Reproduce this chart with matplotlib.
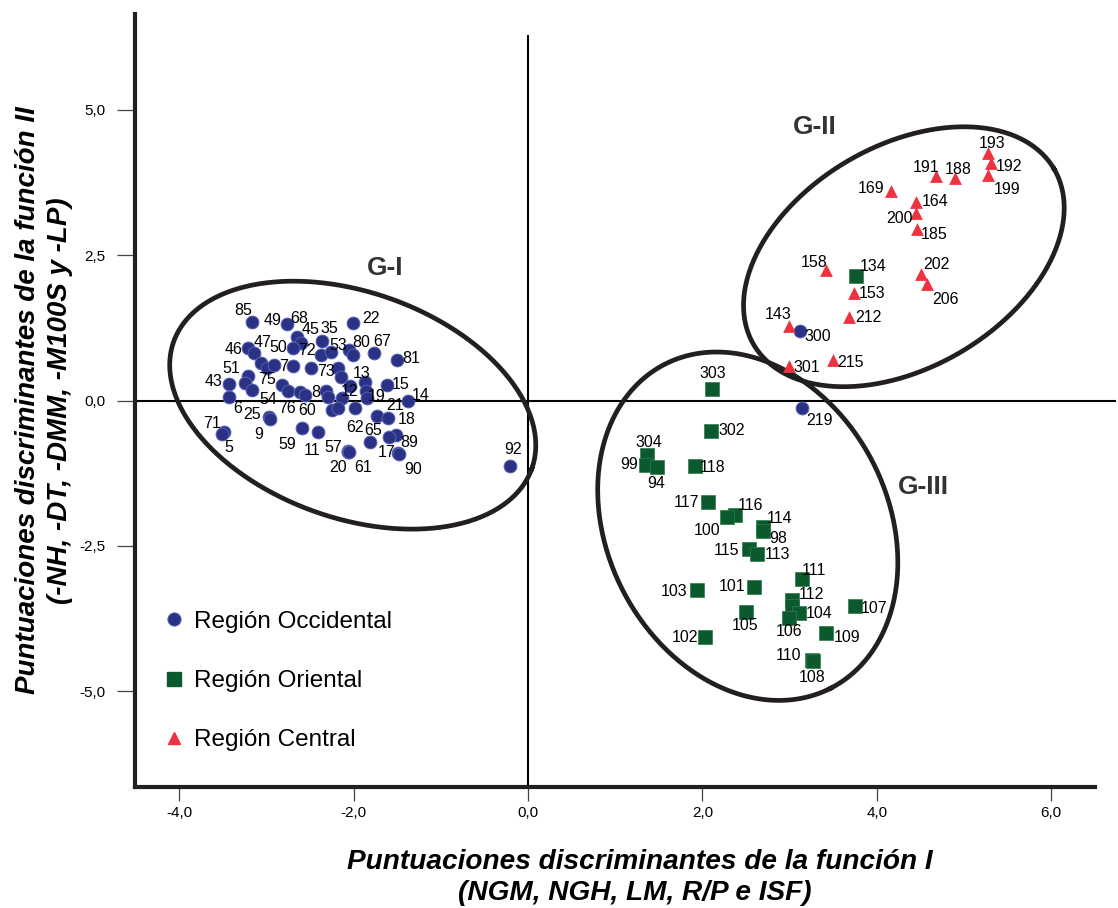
import numpy as np
import matplotlib
matplotlib.use('Agg')
import matplotlib.pyplot as plt
from matplotlib.lines import Line2D

plt.rcParams['font.family'] = ['Liberation Sans', 'DejaVu Sans']

# ---------------- data ----------------
occ_labels = ['85', '49', '68', '45', '35', '22',
              '46', '47', '50', '72', '53', '80', '', '67', '81',
              '', '', '', '7', '',
              '51', '', '75', '43', '6',
              '', '54', '60', '76', '8', '',
              '73', '', '13', '', '', '12',
              '15', '19', '14', '21', '18',
              '62', '', '', '65', '89', '',
              '17', '90', '25', '9', '71', '5',
              '59', '11', '57', '20', '61', '92',
              '300', '219']
occ_x = [-3.17, -2.76, -2.65, -2.60, -2.36, -2.01,
         -3.21, -3.14, -2.69, -2.37, -2.26, -2.05, -2.01, -1.77, -1.50,
         -2.49, -3.06, -2.99, -2.69, -2.91,
         -3.21, -3.25, -3.17, -3.43, -3.43,
         -2.82, -2.75, -2.61, -2.56, -2.32, -2.29,
         -2.18, -2.14, -1.87, -1.86, -2.04, -2.13,
         -1.62, -1.85, -1.38, -1.73, -1.61,
         -1.98, -2.25, -2.18, -1.81, -1.51, -1.59,
         -1.49, -1.48, -2.97, -2.96, -3.49, -3.51,
         -2.59, -2.41, -2.06, -2.07, -2.05, -0.21,
         3.12, 3.14]
occ_y = [1.35, 1.31, 1.09, 0.99, 1.02, 1.33,
         0.90, 0.82, 0.90, 0.78, 0.83, 0.87, 0.78, 0.82, 0.70,
         0.56, 0.64, 0.56, 0.59, 0.61,
         0.42, 0.30, 0.18, 0.28, 0.06,
         0.27, 0.16, 0.15, 0.09, 0.16, 0.06,
         0.56, 0.40, 0.32, 0.16, 0.25, 0.04,
         0.27, 0.04, -0.01, -0.27, -0.30,
         -0.13, -0.16, -0.13, -0.71, -0.59, -0.63,
         -0.90, -0.92, -0.28, -0.32, -0.54, -0.58,
         -0.47, -0.54, -0.87, -0.88, -0.89, -1.13,
         1.19, -0.13]

ori_labels = ['303', '302', '304', '99', '94', '118', '117', '116', '100',
              '114', '98', '115', '113', '111', '103', '101', '112', '',
              '104', '106', '105', '107', '109', '102', '110', '108', '134']
ori_x = [2.11, 2.10, 1.36, 1.35, 1.48, 1.91, 2.06, 2.37, 2.28,
         2.70, 2.69, 2.53, 2.63, 3.14, 1.94, 2.59, 3.03, 3.03,
         3.11, 2.99, 2.50, 3.75, 3.42, 2.03, 3.26, 3.27, 3.76]
ori_y = [0.19, -0.52, -0.94, -1.10, -1.14, -1.13, -1.74, -1.97, -2.01,
         -2.17, -2.25, -2.56, -2.63, -3.07, -3.26, -3.20, -3.42, -3.53,
         -3.65, -3.73, -3.63, -3.53, -4.00, -4.07, -4.46, -4.48, 2.14]

cen_labels = ['193', '192', '199', '191', '188', '169', '164', '200', '185',
              '158', '153', '202', '206', '143', '212', '215', '301']
cen_x = [5.27, 5.31, 5.27, 4.68, 4.90, 4.16, 4.45, 4.45, 4.46,
         3.42, 3.74, 4.51, 4.58, 2.99, 3.68, 3.50, 2.99]
cen_y = [4.25, 4.08, 3.87, 3.85, 3.82, 3.60, 3.41, 3.22, 2.94,
         2.24, 1.85, 2.17, 2.00, 1.28, 1.43, 0.70, 0.60]

series_names = ['Región Occidental', 'Región Oriental', 'Región Central']

x_ticks = [-4, -2, 0, 2, 4, 6]
x_ticklabels = ['-4,0', '-2,0', '0,0', '2,0', '4,0', '6,0']
y_ticks = [-5, -2.5, 0, 2.5, 5]
y_ticklabels = ['-5,0', '-2,5', '0,0', '2,5', '5,0']

group_names = ['G-I', 'G-II', 'G-III']

# ---------------- layout / style (not data) ----------------
label_offsets = {  # label centre relative to marker, in pixels (x right, y down)
    '85': (-8, -11), '49': (-15, -4), '68': (2, -19), '45': (9, -13), '35': (7, -13),
    '22': (18, -5), '46': (-15, 1), '47': (8, -10), '50': (-15, -1), '72': (-14, -5),
    '53': (7, -7), '80': (12, -7), '67': (8, -11), '81': (14, -1), '51': (-17, -8),
    '7': (-10, 0), '73': (-12, 4), '13': (-3, -8), '43': (-15, -3), '75': (15, -11),
    '15': (14, 0), '8': (-10, 1), '12': (7, -7), '19': (10, -2), '14': (13, -6),
    '21': (18, -11), '54': (-20, 8), '6': (9, 11), '76': (-18, 13), '60': (7, 19),
    '25': (-17, -2), '18': (19, 2), '62': (0, 19), '65': (3, -11), '89': (13, 8),
    '71': (-12, -8), '9': (-11, 15), '59': (-15, 17), '11': (-6, 19), '57': (-15, -4),
    '17': (-11, 0), '5': (7, 13), '20': (-9, 16), '61': (14, 15), '90': (14, 15),
    '92': (3, -17), '300': (18, 5), '219': (18, 12),
    '303': (1, -16), '302': (21, 0), '304': (2, -13), '99': (-17, 0), '94': (-1, 17),
    '118': (18, 1), '117': (-21, 1), '116': (16, -10), '100': (-20, 13), '114': (16, -8),
    '98': (16, 7), '115': (-22, 1), '113': (20, 1), '111': (12, -9), '103': (-23, 1),
    '101': (-22, 0), '112': (19, -5), '104': (20, 1), '106': (0, 14), '105': (-1, 14),
    '107': (19, 3), '109': (21, 4), '102': (-20, 0), '110': (-24, -5), '108': (-1, 16),
    '134': (17, -9),
    '193': (4, -10), '192': (18, 3), '199': (19, 14), '191': (-10, -9), '188': (3, -9),
    '169': (-20, -2), '164': (19, -1), '200': (-17, 5), '185': (17, 5), '158': (-12, -8),
    '153': (18, 1), '202': (15, -10), '206': (18, 15), '143': (-11, -12), '212': (20, 0),
    '215': (17, 3), '301': (18, 2),
}
group_text_pos = [(-1.64, 2.28), (3.29, 4.70), (4.53, -1.49)]
# ellipses: centre (data), semi-axes (px), tilt (deg, downward to the right)
ellipses = [((-2.01, -0.08), 190, 113, 19.5),
            ((4.31, 2.47), 174, 111, -30.3),
            ((2.52, -2.16), 182, 140.5, 62.9)]

W, H, DPI = 1118, 908, 100
fig = plt.figure(figsize=(W / DPI, H / DPI), dpi=DPI)
L, R, B, T = 135 / W, 1095 / W, 1 - 787 / H, 1 - 14 / H
ax = fig.add_axes([L, B, R - L, T - B])
XL = (-4.507, 6.502)
YL = (-6.641, 6.641)
ax.set_xlim(*XL)
ax.set_ylim(*YL)
sx = (R - L) * W / (XL[1] - XL[0])
sy = (T - B) * H / (YL[1] - YL[0])

dark = '#231f20'
for s in ['top', 'right']:
    ax.spines[s].set_visible(False)
for s in ['left', 'bottom']:
    ax.spines[s].set_linewidth(3.0)
    ax.spines[s].set_color(dark)

ax.set_xticks(x_ticks)
ax.set_xticklabels(x_ticklabels)
ax.set_yticks(y_ticks)
ax.set_yticklabels(y_ticklabels)
ax.tick_params(axis='x', direction='out', length=10, width=0.9, color='#444444',
               labelsize=11, pad=4)
ax.tick_params(axis='y', direction='out', length=13, width=0.9, color='#444444',
               labelsize=11, pad=8)

# zero lines
ax.plot([XL[0], 6.73], [0, 0], color='black', lw=1.5, clip_on=False, zorder=1)
ax.plot([0, 0], [YL[0], 6.26], color='black', lw=1.5, clip_on=False, zorder=1)

# ellipses
t = np.linspace(0, 2 * np.pi, 400)
for (cx, cy), a, b, phi in ellipses:
    p = np.deg2rad(phi)
    dx = a * np.cos(t) * np.cos(p) - b * np.sin(t) * np.sin(p)
    dy = a * np.cos(t) * np.sin(p) + b * np.sin(t) * np.cos(p)
    ax.plot(cx + dx / sx, cy - dy / sy, color=dark, lw=3.4, zorder=2)

c_occ, c_ori, c_cen = '#2b3285', '#0b5a2e', '#ee3340'
ax.scatter(occ_x, occ_y, s=85, marker='o', color=c_occ, edgecolor='#5563b5',
           linewidth=0.7, zorder=3)
ax.scatter(ori_x, ori_y, s=95, marker='s', color=c_ori, edgecolor='#2f7a4c',
           linewidth=0.5, zorder=3)
ax.scatter(cen_x, cen_y, s=85, marker='^', color=c_cen, linewidth=0, zorder=3)

for labs, xs, ys in [(occ_labels, occ_x, occ_y), (ori_labels, ori_x, ori_y),
                     (cen_labels, cen_x, cen_y)]:
    for lab, x, y in zip(labs, xs, ys):
        if not lab:
            continue
        ox, oy = label_offsets.get(lab, (12, 0))
        ax.annotate(lab, (x, y), xytext=(ox, -oy), textcoords='offset pixels',
                    ha='center', va='center', fontsize=11.5, color='black', zorder=4)

for name, (gx, gy) in zip(group_names, group_text_pos):
    ax.text(gx, gy, name, ha='center', va='center', fontsize=19,
            fontweight='bold', color='#333333')

handles = [Line2D([], [], ls='none', marker='o', ms=9.5, color=c_occ, mec='#5563b5', mew=0.7),
           Line2D([], [], ls='none', marker='s', ms=9.5, color=c_ori),
           Line2D([], [], ls='none', marker='^', ms=9, color=c_cen)]
ax.legend(handles, series_names, loc='center left',
          bbox_to_anchor=((164 - 135) / 960, (787 - 681) / 773),
          frameon=False, fontsize=17.5, handlelength=0.85, handletextpad=0.4,
          labelspacing=1.53, borderpad=0, borderaxespad=0)

fig.text(640 / W, 1 - 862 / H, 'Puntuaciones discriminantes de la función I',
         ha='center', va='center', fontsize=20.2, fontweight='bold', style='italic')
fig.text(635 / W, 1 - 893 / H, '(NGM, NGH, LM, R/P e ISF)',
         ha='center', va='center', fontsize=20.2, fontweight='bold', style='italic')
fig.text(28 / W, 1 - 400 / H, 'Puntuaciones discriminantes de la función II',
         ha='center', va='center', rotation=90, fontsize=20, fontweight='bold', style='italic')
fig.text(60 / W, 1 - 401 / H, '(-NH, -DT, -DMM, -M100S y -LP)',
         ha='center', va='center', rotation=90, fontsize=20, fontweight='bold', style='italic')

fig.savefig('out.png', dpi=DPI)
